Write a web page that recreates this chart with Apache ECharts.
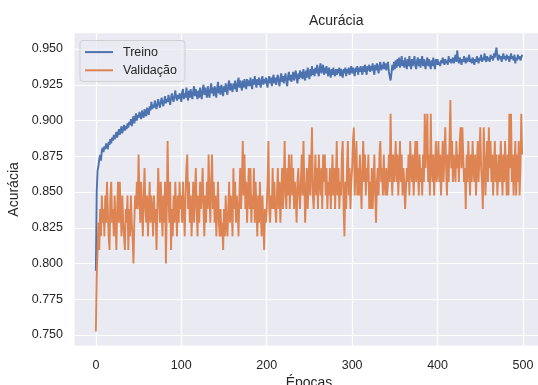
<!DOCTYPE html>
<html>
<head>
<meta charset="utf-8">
<script src="https://cdn.jsdelivr.net/npm/echarts@6/dist/echarts.min.js"></script>
<style>
  html, body { margin: 0; padding: 0; background: #fff; }
  #chart { width: 538px; height: 385px; }
</style>
</head>
<body>
<div id="chart"></div>
<script>
// accuracy per epoch (0..499)
const treino = [
  0.795,0.850,0.865,0.868,0.873,0.876,0.872,0.879,0.881,0.878,0.882,0.880,0.884,0.882,0.880,0.885,0.883,0.887,0.884,0.888,
  0.886,0.890,0.887,0.889,0.892,0.888,0.891,0.894,0.890,0.893,0.896,0.891,0.894,0.897,0.893,0.896,0.894,0.898,0.895,0.899,
  0.897,0.901,0.896,0.900,0.903,0.898,0.901,0.905,0.900,0.904,0.902,0.906,0.903,0.901,0.907,0.904,0.902,0.908,0.905,0.903,
  0.909,0.906,0.904,0.910,0.907,0.913,0.908,0.911,0.909,0.914,0.910,0.908,0.912,0.915,0.911,0.909,0.913,0.916,0.912,0.910,
  0.914,0.917,0.912,0.915,0.913,0.918,0.914,0.911,0.916,0.919,0.915,0.913,0.917,0.921,0.916,0.914,0.918,0.915,0.919,0.917,
  0.913,0.920,0.922,0.915,0.919,0.916,0.923,0.917,0.914,0.921,0.916,0.922,0.917,0.915,0.921,0.924,0.917,0.922,0.918,0.915,
  0.921,0.916,0.923,0.918,0.915,0.922,0.925,0.918,0.923,0.919,0.916,0.924,0.919,0.916,0.922,0.926,0.919,0.923,0.917,0.924,
  0.921,0.916,0.923,0.927,0.919,0.924,0.918,0.925,0.921,0.917,0.924,0.920,0.926,0.921,0.918,0.925,0.928,0.921,0.926,0.922,
  0.920,0.926,0.922,0.928,0.923,0.920,0.927,0.930,0.923,0.928,0.924,0.921,0.928,0.923,0.929,0.925,0.922,0.929,0.924,0.928,
  0.924,0.930,0.925,0.922,0.929,0.925,0.931,0.926,0.923,0.929,0.925,0.930,0.926,0.923,0.929,0.931,0.925,0.929,0.926,0.930,
  0.926,0.923,0.929,0.931,0.926,0.930,0.924,0.929,0.932,0.926,0.930,0.925,0.929,0.932,0.927,0.924,0.930,0.933,0.927,0.931,
  0.926,0.930,0.933,0.927,0.924,0.931,0.934,0.928,0.932,0.927,0.931,0.934,0.928,0.932,0.935,0.929,0.926,0.933,0.929,0.935,
  0.930,0.934,0.929,0.936,0.931,0.928,0.935,0.930,0.937,0.932,0.929,0.936,0.931,0.938,0.932,0.936,0.931,0.937,0.933,0.939,
  0.934,0.931,0.937,0.940,0.933,0.936,0.939,0.932,0.937,0.933,0.938,0.934,0.931,0.937,0.933,0.930,0.936,0.932,0.937,0.933,
  0.931,0.936,0.932,0.936,0.933,0.937,0.931,0.936,0.933,0.930,0.936,0.933,0.937,0.931,0.936,0.933,0.937,0.932,0.935,0.938,
  0.933,0.937,0.934,0.931,0.937,0.934,0.938,0.932,0.937,0.934,0.938,0.935,0.932,0.938,0.934,0.939,0.935,0.932,0.938,0.935,
  0.939,0.934,0.938,0.935,0.940,0.935,0.932,0.939,0.935,0.940,0.936,0.933,0.939,0.941,0.935,0.939,0.936,0.941,0.936,0.940,
  0.935,0.939,0.941,0.934,0.931,0.928,0.933,0.939,0.935,0.941,0.936,0.942,0.937,0.943,0.938,0.944,0.937,0.940,0.945,0.938,
  0.942,0.937,0.944,0.939,0.936,0.943,0.938,0.945,0.939,0.936,0.943,0.938,0.941,0.945,0.938,0.936,0.942,0.944,0.938,0.943,
  0.937,0.942,0.945,0.938,0.943,0.939,0.936,0.942,0.944,0.938,0.943,0.939,0.936,0.942,0.938,0.944,0.939,0.936,0.943,0.939,
  0.943,0.939,0.941,0.938,0.942,0.940,0.944,0.941,0.939,0.943,0.940,0.942,0.939,0.945,0.941,0.943,0.940,0.942,0.944,0.940,
  0.943,0.946,0.941,0.949,0.943,0.940,0.944,0.942,0.939,0.943,0.941,0.945,0.942,0.940,0.944,0.941,0.943,0.946,0.941,0.943,
  0.940,0.944,0.942,0.939,0.943,0.941,0.945,0.942,0.940,0.944,0.942,0.946,0.941,0.944,0.942,0.947,0.943,0.941,0.945,0.942,
  0.944,0.941,0.946,0.943,0.945,0.942,0.947,0.944,0.948,0.951,0.944,0.942,0.946,0.943,0.945,0.941,0.944,0.947,0.943,0.945,
  0.942,0.946,0.943,0.945,0.941,0.944,0.947,0.943,0.945,0.942,0.946,0.940,0.944,0.942,0.946,0.943,0.945,0.942,0.944,0.946
]

const validacao = [
  0.7524,0.7905,0.7905,0.8286,0.8095,0.8381,0.819,0.8476,0.8286,0.8381,0.819,0.8476,0.8286,0.8571,0.8381,0.819,0.8095,0.8476,0.8571,0.8286,
  0.8381,0.819,0.8476,0.8286,0.8095,0.8381,0.8571,0.8286,0.8571,0.8381,0.819,0.8476,0.8286,0.819,0.8095,0.8381,0.8286,0.8476,0.8095,0.8381,
  0.819,0.8476,0.8286,0.819,0.8,0.8286,0.8476,0.8381,0.8571,0.8381,0.8762,0.8476,0.8286,0.8571,0.8381,0.819,0.8476,0.8667,0.8381,0.8286,
  0.8476,0.819,0.8381,0.8571,0.8286,0.8476,0.8381,0.819,0.8476,0.8286,0.8381,0.8095,0.8381,0.8667,0.8476,0.8286,0.8571,0.8381,0.819,0.8476,
  0.8286,0.8571,0.8,0.8381,0.8857,0.8476,0.8286,0.8571,0.8095,0.8381,0.819,0.8476,0.8286,0.8571,0.8381,0.819,0.8476,0.8286,0.8571,0.8381,
  0.8476,0.8286,0.8571,0.8381,0.819,0.8476,0.8667,0.8762,0.8381,0.8571,0.8286,0.8476,0.819,0.8381,0.8571,0.8286,0.8476,0.8667,0.8381,0.819,
  0.8476,0.8286,0.8571,0.8381,0.8476,0.8667,0.8381,0.819,0.8476,0.8286,0.8571,0.8381,0.8762,0.8476,0.8286,0.8571,0.8762,0.8381,0.8571,0.8286,
  0.8476,0.819,0.8381,0.8571,0.8286,0.819,0.8381,0.819,0.8286,0.8095,0.8381,0.819,0.8476,0.8286,0.819,0.8381,0.8571,0.8286,0.8476,0.8381,
  0.819,0.8667,0.8381,0.8571,0.8286,0.8476,0.8381,0.819,0.8476,0.8667,0.8381,0.8571,0.8857,0.8476,0.8762,0.8381,0.8571,0.8286,0.8476,0.8667,
  0.8381,0.8667,0.8286,0.8476,0.8381,0.8667,0.8286,0.8571,0.8381,0.819,0.8476,0.8286,0.8571,0.8381,0.819,0.8476,0.8286,0.8095,0.8381,0.8286,
  0.8381,0.8571,0.8857,0.8381,0.8286,0.8476,0.8381,0.8667,0.8381,0.8571,0.8381,0.8286,0.8476,0.8667,0.8381,0.8571,0.8286,0.8476,0.8667,0.8381,
  0.8571,0.8857,0.8476,0.8381,0.8667,0.8476,0.8762,0.8381,0.8571,0.8762,0.8476,0.8667,0.8381,0.8571,0.8476,0.8286,0.8571,0.8667,0.8476,0.8381,
  0.8571,0.8762,0.8476,0.8857,0.8571,0.8286,0.8476,0.8667,0.8381,0.8571,0.8762,0.8476,0.8667,0.8952,0.8476,0.8381,0.8571,0.8762,0.8476,0.8667,
  0.8381,0.8762,0.8571,0.8476,0.8667,0.8381,0.8762,0.8571,0.8762,0.8476,0.8667,0.8381,0.8571,0.8476,0.8667,0.8381,0.8571,0.8762,0.8476,0.8667,
  0.8381,0.8571,0.8857,0.8476,0.8667,0.8381,0.8571,0.8476,0.8762,0.8857,0.8381,0.819,0.8571,0.8381,0.8667,0.8857,0.8476,0.8667,0.8381,0.8571,
  0.8667,0.8857,0.8952,0.8476,0.8667,0.8857,0.8476,0.8667,0.8476,0.8762,0.8571,0.8381,0.8667,0.8857,0.8571,0.8762,0.8476,0.8667,0.8571,0.8762,
  0.8381,0.8571,0.8381,0.8667,0.8381,0.8571,0.8762,0.8476,0.8286,0.8571,0.8667,0.8476,0.8762,0.8857,0.8571,0.8667,0.8476,0.8762,0.8571,0.8476,
  0.8667,0.8476,0.8571,0.8762,0.8571,0.9048,0.8667,0.8476,0.8762,0.8571,0.8667,0.8857,0.8571,0.8762,0.8476,0.8667,0.8857,0.8571,0.8762,0.8476,
  0.8667,0.8571,0.8381,0.8381,0.8667,0.8571,0.8762,0.8476,0.8857,0.8667,0.8571,0.8762,0.8476,0.8667,0.8857,0.8571,0.8857,0.8667,0.8476,0.8762,
  0.8571,0.8667,0.8476,0.8762,0.8571,0.9048,0.8667,0.8857,0.9048,0.8571,0.8762,0.8476,0.9048,0.8667,0.8571,0.8762,0.8476,0.8667,0.8857,0.8571,
  0.8667,0.8857,0.8571,0.8762,0.8476,0.8667,0.8857,0.8571,0.8762,0.8952,0.8667,0.8476,0.8762,0.8571,0.8857,0.9143,0.8667,0.8857,0.8571,0.8762,
  0.8667,0.8571,0.8857,0.8667,0.8762,0.8571,0.8857,0.8952,0.8667,0.8952,0.8762,0.8571,0.8667,0.8381,0.8762,0.8571,0.8857,0.8667,0.8476,0.8762,
  0.8571,0.8857,0.8667,0.8571,0.8762,0.8476,0.8667,0.8857,0.8571,0.8762,0.8952,0.8667,0.8571,0.8381,0.8952,0.8762,0.8476,0.8667,0.8857,0.8571,
  0.8952,0.8667,0.8857,0.8571,0.8762,0.8476,0.8667,0.8857,0.8571,0.8762,0.8476,0.8476,0.8762,0.8571,0.8857,0.8667,0.8476,0.8762,0.8571,0.8857,
  0.8667,0.8476,0.8762,0.8476,0.9048,0.8667,0.9048,0.8571,0.8762,0.8476,0.8667,0.8857,0.8476,0.8762,0.8571,0.8857,0.8476,0.8667,0.9048,0.8762
]

const xTicks = [0, 100, 200, 300, 400, 500]
const yTicks = [0.750, 0.775, 0.800, 0.825, 0.850, 0.875, 0.900, 0.925, 0.950]

const FONT = '"Liberation Sans", Arial, sans-serif'
const TXT = '#262626'

const chart = echarts.init(document.getElementById('chart'), null, { renderer: 'canvas' })

chart.setOption({
  animation: false,
  textStyle: { fontFamily: FONT },
  graphic: [{
    type: 'text',
    left: 309,
    top: 14,
    style: { text: 'Acurácia', font: '14px ' + FONT, fill: TXT, textAlign: 'center' }
  }],
  legend: {
    orient: 'vertical',
    left: 80,
    top: 40.5,
    padding: [4.5, 8, 4, 5],
    itemGap: 4,
    itemWidth: 28,
    itemHeight: 2,
    icon: 'rect',
    backgroundColor: 'rgba(234,234,242,0.8)',
    borderColor: '#cfcfd4',
    borderWidth: 1,
    borderRadius: 3,
    textStyle: { color: TXT, fontSize: 12.5, lineHeight: 14.2, fontFamily: FONT, padding: [0, 0, 0, 5] },
    data: ['Treino', 'Validação']
  },
  grid: {
    show: true,
    left: 74.5,
    top: 33.3,
    width: 469,
    height: 312.3,
    outerBoundsMode: 'none',
    containLabel: false,
    backgroundColor: '#EAEAF2',
    borderWidth: 0
  },
  xAxis: {
    type: 'value',
    min: -25,
    max: 524,
    name: 'Épocas',
    nameLocation: 'middle',
    nameGap: 30,
    nameTextStyle: { color: TXT, fontSize: 14, fontFamily: FONT },
    axisLine: { show: false },
    axisTick: { show: false, customValues: xTicks },
    axisLabel: { customValues: xTicks, color: TXT, fontSize: 12.5, margin: 13, fontFamily: FONT },
    splitLine: { show: true, lineStyle: { color: '#ffffff', width: 1.2 } }
  },
  yAxis: {
    type: 'value',
    min: 0.7426,
    max: 0.961,
    name: 'Acurácia',
    nameLocation: 'middle',
    nameGap: 50,
    nameRotate: 90,
    nameTextStyle: { color: TXT, fontSize: 14, fontFamily: FONT },
    axisLine: { show: false },
    axisTick: { show: false, customValues: yTicks },
    axisLabel: {
      customValues: yTicks,
      color: TXT,
      fontSize: 12.5,
      margin: 11.5,
      fontFamily: FONT,
      formatter: v => v.toFixed(3)
    },
    splitLine: { show: true, lineStyle: { color: '#ffffff', width: 1.2 } }
  },
  series: [{
    name: 'Treino',
    type: 'line',
    showSymbol: false,
    symbol: 'none',
    color: '#4C72B0',
    lineStyle: { width: 1.9, color: '#4C72B0' },
    data: treino.map((v, i) => [i, v])
  }, {
    name: 'Validação',
    type: 'line',
    showSymbol: false,
    symbol: 'none',
    color: '#DD8452',
    lineStyle: { width: 1.9, color: '#DD8452' },
    data: validacao.map((v, i) => [i, v])
  }]
})
</script>
</body>
</html>
